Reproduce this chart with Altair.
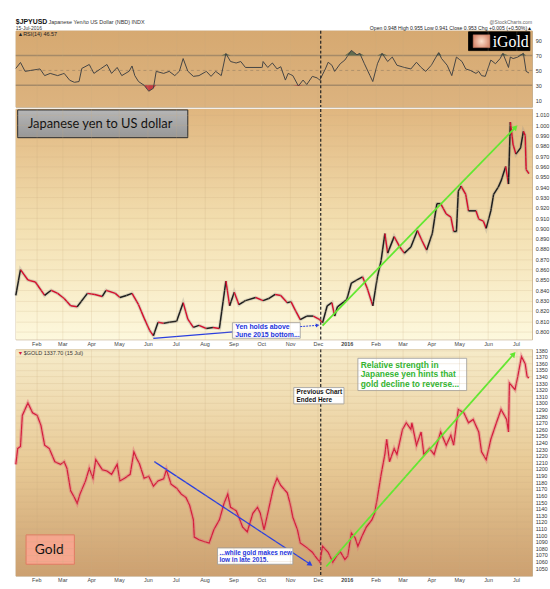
import altair as alt
import pandas as pd

# ---------------- values ----------------
yen_dates = ["2015-01-10","2015-01-15","2015-01-23","2015-01-31","2015-02-10","2015-02-17","2015-02-24","2015-03-03","2015-03-10","2015-03-17",
             "2015-03-28","2015-04-05","2015-04-13","2015-04-17","2015-04-27","2015-05-02","2015-05-09","2015-05-15","2015-05-22","2015-05-28",
             "2015-06-03","2015-06-07","2015-06-12","2015-06-18","2015-06-24","2015-07-02","2015-07-09","2015-07-14","2015-07-20","2015-07-26",
             "2015-08-03","2015-08-10","2015-08-17","2015-08-24","2015-08-28","2015-09-02","2015-09-07","2015-09-14","2015-09-25","2015-10-03",
             "2015-10-09","2015-10-16","2015-10-22","2015-10-29","2015-11-02","2015-11-07","2015-11-12","2015-11-19","2015-11-26","2015-12-03",
             "2015-12-06","2015-12-11","2015-12-16","2015-12-19","2015-12-22","2016-01-01","2016-01-06","2016-01-12","2016-01-18","2016-01-23",
             "2016-01-29","2016-02-03","2016-02-07","2016-02-11","2016-02-14","2016-02-21","2016-02-27","2016-03-03","2016-03-10","2016-03-17",
             "2016-03-22","2016-03-27","2016-04-02","2016-04-07","2016-04-11","2016-04-17","2016-04-22","2016-04-25","2016-04-28","2016-04-30",
             "2016-05-03","2016-05-08","2016-05-11","2016-05-19","2016-05-22","2016-05-27","2016-05-30","2016-06-04","2016-06-07","2016-06-12",
             "2016-06-15","2016-06-20","2016-06-23","2016-06-25","2016-06-28","2016-07-01","2016-07-06","2016-07-09","2016-07-11","2016-07-12",
             "2016-07-15"]
yen_vals = [0.835,0.860,0.850,0.848,0.835,0.840,0.837,0.832,0.825,0.824,
            0.837,0.836,0.834,0.840,0.837,0.833,0.835,0.837,0.826,0.813,
            0.801,0.796,0.809,0.808,0.809,0.810,0.828,0.812,0.804,0.806,
            0.803,0.804,0.803,0.849,0.825,0.838,0.826,0.830,0.833,0.830,
            0.832,0.836,0.835,0.828,0.829,0.820,0.8115,0.815,0.815,0.8115,
            0.8085,0.825,0.828,0.815,0.824,0.831,0.847,0.850,0.853,0.842,
            0.825,0.853,0.869,0.895,0.876,0.892,0.882,0.876,0.882,0.898,
            0.888,0.879,0.895,0.924,0.924,0.914,0.911,0.897,0.897,0.936,
            0.941,0.933,0.917,0.917,0.909,0.907,0.900,0.917,0.933,0.940,
            0.946,0.960,0.943,1.003,0.981,0.972,0.978,0.994,0.990,0.957,
            0.953]

gold_dates = ["2015-01-10","2015-01-12","2015-01-15","2015-01-17","2015-01-23","2015-01-28","2015-02-02","2015-02-06","2015-02-10","2015-02-15",
              "2015-02-21","2015-02-27","2015-03-03","2015-03-06","2015-03-10","2015-03-14","2015-03-17","2015-03-20","2015-03-26","2015-03-30",
              "2015-04-03","2015-04-06","2015-04-13","2015-04-18","2015-04-23","2015-04-29","2015-05-02","2015-05-07","2015-05-13","2015-05-17",
              "2015-05-20","2015-05-23","2015-05-28","2015-06-02","2015-06-07","2015-06-12","2015-06-18","2015-06-21","2015-06-26","2015-07-02",
              "2015-07-07","2015-07-12","2015-07-16","2015-07-20","2015-07-21","2015-07-26","2015-08-01","2015-08-06","2015-08-11","2015-08-17",
              "2015-08-22","2015-08-26","2015-08-29","2015-09-04","2015-09-07","2015-09-11","2015-09-16","2015-09-22","2015-09-27","2015-09-30",
              "2015-10-04","2015-10-08","2015-10-11","2015-10-14","2015-10-18","2015-10-22","2015-10-29","2015-11-01","2015-11-04","2015-11-09",
              "2015-11-12","2015-11-19","2015-11-25","2015-11-28","2015-12-03","2015-12-06","2015-12-12","2015-12-17","2015-12-21","2015-12-25",
              "2015-12-30","2016-01-02","2016-01-06","2016-01-10","2016-01-13","2016-01-17","2016-01-22","2016-01-28","2016-01-31","2016-02-03",
              "2016-02-07","2016-02-11","2016-02-13","2016-02-16","2016-02-21","2016-02-24","2016-03-01","2016-03-05","2016-03-10","2016-03-11",
              "2016-03-16","2016-03-21","2016-03-24","2016-03-30","2016-04-04","2016-04-11","2016-04-17","2016-04-22","2016-04-25","2016-04-30",
              "2016-05-06","2016-05-11","2016-05-16","2016-05-22","2016-05-25","2016-05-30","2016-06-04","2016-06-10","2016-06-15","2016-06-21",
              "2016-06-23","2016-06-24","2016-06-30","2016-07-03","2016-07-07","2016-07-11","2016-07-13","2016-07-15"]
gold_vals = [1207,1231,1234,1281,1300,1285,1281,1266,1236,1231,
             1211,1207,1211,1201,1167,1157,1148,1162,1182,1201,
             1186,1214,1199,1197,1192,1207,1182,1186,1192,1226,
             1216,1208,1186,1189,1174,1182,1185,1199,1177,1171,
             1162,1157,1145,1123,1097,1093,1090,1088,1108,1123,
             1148,1162,1142,1137,1127,1112,1105,1133,1142,1133,
             1108,1133,1152,1171,1186,1175,1164,1148,1127,1108,
             1088,1081,1074,1068,1059,1083,1074,1059,1068,1075,
             1063,1068,1103,1096,1083,1097,1112,1123,1133,1157,
             1192,1222,1245,1211,1231,1222,1260,1270,1260,1270,
             1236,1256,1222,1231,1222,1256,1236,1251,1236,1290,
             1285,1270,1275,1256,1226,1214,1245,1270,1290,1275,
             1256,1330,1320,1340,1370,1359,1340,1337.7]

rsi_dates = ["2015-01-10","2015-01-15","2015-01-20","2015-01-26","2015-02-05","2015-02-10","2015-02-16","2015-02-24","2015-03-03","2015-03-09",
             "2015-03-14","2015-03-19","2015-03-22","2015-03-30","2015-04-04","2015-04-11","2015-04-18","2015-04-23","2015-04-29","2015-05-04",
             "2015-05-12","2015-05-15","2015-05-18","2015-05-22","2015-05-28","2015-06-02","2015-06-07","2015-06-10","2015-06-18","2015-06-24",
             "2015-06-30","2015-07-05","2015-07-09","2015-07-14","2015-07-20","2015-07-26","2015-08-03","2015-08-08","2015-08-13","2015-08-19",
             "2015-08-24","2015-08-29","2015-09-04","2015-09-09","2015-09-14","2015-10-02","2015-10-03","2015-10-08","2015-10-13","2015-10-18",
             "2015-10-22","2015-10-27","2015-10-30","2015-11-04","2015-11-10","2015-11-15","2015-11-19","2015-11-25","2015-11-30","2015-12-03",
             "2015-12-09","2015-12-12","2015-12-16","2015-12-19","2015-12-25","2015-12-30","2016-01-06","2016-01-12","2016-01-15","2016-01-20",
             "2016-01-26","2016-01-29","2016-02-03","2016-02-08","2016-02-14","2016-02-19","2016-02-24","2016-03-03","2016-03-10","2016-03-16",
             "2016-03-21","2016-03-26","2016-04-01","2016-04-06","2016-04-09","2016-04-12","2016-04-18","2016-04-23","2016-04-28","2016-05-04",
             "2016-05-08","2016-05-13","2016-05-19","2016-05-22","2016-05-25","2016-05-29","2016-06-04","2016-06-09","2016-06-14","2016-06-17",
             "2016-06-23","2016-06-25","2016-06-28","2016-07-03","2016-07-09","2016-07-12","2016-07-15"]
rsi_vals = [52.7,60.7,48.7,50,52,43,46,43,46,36.7,
            34,35,52.7,58,46,52,58,46,54,43,
            49,56,43,35,30,22,26,48.7,46,48.7,
            43,49,66,49,42,43,48.7,42,48.7,43,
            72.7,62,60,62,54,54,62,54,60,52,
            55,37,46,43,29,37,31,42,40,37,
            52,61,57,48.7,59,64,77,71,73,59,
            43,35,59,73,62,68,57,54,52,61,
            54,48.7,57,68,74,66,57,43,68,62,
            52,50,46,48.7,43,42,64,59,66,73,
            54,68,66,68,73,48.7,46.57]

month_ticks = ["2015-02-01","2015-03-01","2015-04-01","2015-05-01","2015-06-01","2015-07-01","2015-08-01","2015-09-01",
               "2015-10-01","2015-11-01","2015-12-01","2016-01-01","2016-02-01","2016-03-01","2016-04-01","2016-05-01",
               "2016-06-01","2016-07-01"]
yen_ticks = [0.800,0.810,0.820,0.830,0.840,0.850,0.860,0.870,0.880,0.890,0.900,0.910,0.920,0.930,0.940,0.950,
             0.960,0.970,0.980,0.990,1.000,1.010]
gold_ticks = list(range(1050, 1390, 10))
rsi_ticks = [10, 30, 50, 70, 90]
rsi_levels = [30, 70]
dash_date = ["2015-12-04"]

# annotation anchors (data coordinates)
yen_title_box = {"d1": ["2015-01-12"], "d2": ["2015-07-14"], "v1": [1.0148], "v2": [0.9879]}
yen_title_txt = {"d": ["2015-01-23"], "v": [1.0013], "t": ["Japanese yen to US dollar"]}
yen_note_box = {"d1": ["2015-08-31"], "d2": ["2015-11-12"], "v1": [0.8086], "v2": [0.7935]}
yen_note_txt = {"d": ["2015-09-03"], "v": [0.8078], "t": ["Yen holds above\nJune 2015 bottom..."]}
yen_blue_line = {"d1": ["2015-06-07"], "d2": ["2015-09-01"], "v1": [0.7934], "v2": [0.7996]}
yen_blue_arrow = {"d1": ["2015-11-12"], "d2": ["2015-11-30"], "v1": [0.8048], "v2": [0.8060]}
yen_green_arrow = {"d1": ["2015-12-06"], "d2": ["2016-06-30"], "v1": [0.8058], "v2": [0.9975]}

gold_name_box = {"d1": ["2015-01-21"], "d2": ["2015-03-14"], "v1": [1100.3], "v2": [1055.9]}
gold_name_txt = {"d": ["2015-02-15"], "v": [1077.5], "t": ["Gold"]}
gold_blue_arrow = {"d1": ["2015-06-08"], "d2": ["2015-11-22"], "v1": [1211.2], "v2": [1056.5]}
gold_note_box = {"d1": ["2015-08-15"], "d2": ["2015-11-04"], "v1": [1080.6], "v2": [1055.9]}
gold_note_txt = {"d": ["2015-08-17"], "v": [1078.0], "t": ["...while gold makes new\nlow in late 2015."]}
prev_box = {"d1": ["2015-11-05"], "d2": ["2015-12-29"], "v1": [1323.2], "v2": [1298.5]}
prev_txt = {"d": ["2015-11-08"], "v": [1320.7], "t": ["Previous Chart\nEnded Here"]}
rel_box = {"d1": ["2016-01-13"], "d2": ["2016-05-09"], "v1": [1367.5], "v2": [1318.7]}
rel_txt = {"d": ["2016-01-16"], "v": [1364.0], "t": ["Relative strength in\nJapanese yen hints that\ngold decline to reverse..."]}
gold_green_arrow = {"d1": ["2015-12-10"], "d2": ["2016-06-28"], "v1": [1052.5], "v2": [1372.9]}

logo_box = {"d1": ["2016-05-11"], "d2": ["2016-07-16"], "v1": [102.0], "v2": [76.7]}
logo_sq = {"d1": ["2016-05-16"], "d2": ["2016-06-03"], "v1": [98.0], "v2": [80.7]}
logo_txt = {"d": ["2016-06-06"], "v": [88.7], "t": ["iGold"]}

# ---------------- chart ----------------
W = 522
H_RSI, H_YEN, H_GOLD = 77, 233, 229
FONT = "Liberation Sans"
ONE = pd.DataFrame({"a": [0]})


def dt(s, **kw):
    y, m, d = map(int, s.split("-"))
    return alt.DateTime(year=y, month=m, date=d, utc=True, **kw)


XSCALE = alt.Scale(type="utc", domain=[dt("2015-01-10"), dt("2016-07-18", hours=12)])
LABEL_EXPR = "utcmonth(datum.value) == 0 ? utcFormat(datum.value, '%Y') : utcFormat(datum.value, '%b')"
GRID_COLOR = "#c9ad80"


def x_axis(labels=True):
    return alt.Axis(values=[dt(s) for s in month_ticks], labelExpr=LABEL_EXPR, labels=labels,
                    ticks=False, domain=False, grid=True, gridColor=GRID_COLOR, gridOpacity=0.35,
                    gridWidth=0.6, labelFontSize=5.5, labelColor="#444", labelPadding=2, labelFont=FONT,
                    labelFontWeight={"condition": {"test": "utcmonth(datum.value) == 0", "value": "bold"},
                                     "value": "normal"},
                    zindex=1)


def y_axis(values, fmt, grid=True):
    return alt.Axis(values=values, format=fmt, orient="right", ticks=False, domain=False, grid=grid,
                    gridColor=GRID_COLOR, gridOpacity=0.35, gridWidth=0.6, labelFontSize=5.5,
                    labelColor="#333", labelPadding=3, labelOverlap=False, labelFont=FONT, zindex=1)


def ex(f, ax):
    return alt.X(f"{f}:T", scale=XSCALE, axis=ax, title=None)


def ey(f, sc, ax):
    return alt.Y(f"{f}:Q", scale=sc, axis=ax, title=None)


def background(h, stops):
    grad = alt.LinearGradient(gradient="linear", x1=0, x2=0, y1=0, y2=1,
                              stops=[alt.GradientStop(color=c, offset=o) for o, c in stops])
    return alt.Chart(ONE).mark_rect(fill=grad).encode(
        x=alt.value(0), x2=alt.value(W), y=alt.value(0), y2=alt.value(h))


def box(d, ysc, xa, ya, fill, stroke, sw=0.8):
    return alt.Chart(pd.DataFrame(d)).mark_rect(fill=fill, stroke=stroke, strokeWidth=sw).encode(
        x=ex("d1", xa), x2="d2:T", y=ey("v1", ysc, ya), y2="v2:Q")


def label(d, ysc, xa, ya, **mk):
    return alt.Chart(pd.DataFrame(d)).mark_text(lineBreak="\n", **mk).encode(
        x=ex("d", xa), y=ey("v", ysc, ya), text="t:N")


def arrow(d, ysc, xa, ya, color, angle, width=1.6, dash=None, size=45):
    kw = {"strokeDash": dash} if dash else {}
    df = pd.DataFrame(d)
    seg = alt.Chart(df).mark_rule(color=color, strokeWidth=width, **kw).encode(
        x=ex("d1", xa), x2="d2:T", y=ey("v1", ysc, ya), y2="v2:Q")
    head = alt.Chart(df).mark_point(shape="triangle", filled=True, color=color, opacity=1,
                                    size=size, angle=angle).encode(
        x=ex("d2", xa), y=ey("v2", ysc, ya))
    return seg + head


def dash_rule(xa):
    return alt.Chart(pd.DataFrame({"date": dash_date})).mark_rule(
        color="#222", strokeWidth=1.2, strokeDash=[3, 2]).encode(x=ex("date", xa))


def ptext(txt, x, y, size=5.5, weight="normal", color="#222", align="left", font=FONT):
    return alt.Chart(ONE).mark_text(text=txt, fontSize=size, fontWeight=weight, color=color,
                                    align=align, baseline="middle", font=font).encode(
        x=alt.value(x), y=alt.value(y))


# ---- RSI panel ----
rsi_df = pd.DataFrame({"date": rsi_dates, "rsi": rsi_vals})
RSI_Y = alt.Scale(domain=[0.67, 103.3], nice=False, zero=False)
rxa = x_axis(labels=False)
rya = y_axis(rsi_ticks, "d", grid=False)

rsi_chart = alt.layer(
    background(H_RSI, [(0, "#d6a971"), (1, "#dcb37f")]),
    alt.Chart(ONE).mark_rule(color="white", strokeWidth=0.1).encode(
        x=alt.value(0), y=alt.value(-27), y2=alt.value(-26)),
    alt.Chart(pd.DataFrame({"lvl": rsi_levels})).mark_rule(color="#a58a68", strokeWidth=1.6).encode(
        y=ey("lvl", RSI_Y, rya)),
    alt.Chart(pd.DataFrame({"lvl": [50]})).mark_rule(color="#a58a68", strokeWidth=0.8,
                                                     strokeDash=[3, 3]).encode(y=ey("lvl", RSI_Y, rya)),
    alt.Chart(rsi_df).transform_calculate(hi="max(datum.rsi, 70)").mark_area(
        color="#56664a", opacity=0.9).encode(x=ex("date", rxa), y=ey("hi", RSI_Y, rya), y2=alt.Y2Datum(70)),
    alt.Chart(rsi_df).transform_calculate(lo="min(datum.rsi, 30)").mark_area(
        color="#c4303c", opacity=0.9).encode(x=ex("date", rxa), y=ey("lo", RSI_Y, rya), y2=alt.Y2Datum(30)),
    alt.Chart(rsi_df).mark_line(color="#444", strokeWidth=1).encode(
        x=ex("date", rxa), y=ey("rsi", RSI_Y, rya)),
    dash_rule(rxa),
    box(logo_box, RSI_Y, rxa, rya, "#000000", "#000000"),
    box(logo_sq, RSI_Y, rxa, rya,
        alt.RadialGradient(gradient="radial", stops=[alt.GradientStop(color="#fbe0cc", offset=0),
                                                     alt.GradientStop(color="#d98a70", offset=1)]),
        "#c07860", 0.5),
    label(logo_txt, RSI_Y, rxa, rya, font="Liberation Serif", fontSize=16, color="white",
          align="left", baseline="middle"),
    ptext("$JPYUSD", 0, -9, size=7, weight="bold", color="#111"),
    ptext("Japanese Yen/to US Dollar (NBD) INDX", 33, -9, size=5.5, color="#333"),
    ptext("15-Jul-2016", 0, -3, size=5, color="#333"),
    ptext("@StockCharts.com", W, -9, size=5, color="#666", align="right"),
    ptext("Open 0.948  High 0.955  Low 0.941  Close 0.953  Chg +0.005 (+0.50%)\u25b2", W, -2.5,
          size=5.2, color="#222", align="right"),
    ptext("\u25b2RSI(14) 46.57", 2, 3.5, size=5.5, color="#222"),
).properties(width=W, height=H_RSI)

# ---- Yen panel ----
yen_df = pd.DataFrame({"date": yen_dates, "v": yen_vals})
YEN_Y = alt.Scale(domain=[0.7923, 1.0157], nice=False, zero=False)
yxa = x_axis(labels=True)
yya = y_axis(yen_ticks, ".3f")

yen_segments = alt.Chart(yen_df).transform_window(
    window=[alt.WindowFieldDef(op="lag", field="v", **{"as": "pv"}),
            alt.WindowFieldDef(op="lag", field="date", **{"as": "pdate"})],
    sort=[alt.SortField("date")]
).transform_filter("datum.pv != null").mark_rule(strokeWidth=1.5).encode(
    x=ex("pdate", yxa), x2="date:T", y=ey("pv", YEN_Y, yya), y2="v:Q",
    color=alt.condition("datum.v < datum.pv", alt.value("#d4102e"), alt.value("#1e1e1e")))

yen_chart = alt.layer(
    background(H_YEN, [(0, "#e0b67f"), (0.5, "#f3dfb0"), (1, "#fdf8dd")]),
    dash_rule(yxa),
    alt.Chart(yen_df).mark_line(color="#888", strokeWidth=3.5, opacity=0.25).encode(
        x=ex("date", yxa), y=ey("v", YEN_Y, yya)),
    yen_segments,
    box(yen_title_box, YEN_Y, yxa, yya,
        alt.LinearGradient(gradient="linear", x1=0, x2=0, y1=0, y2=1,
                           stops=[alt.GradientStop(color="#b6b6b6", offset=0),
                                  alt.GradientStop(color="#979797", offset=1)]),
        "#2a2a2a", 1),
    label(yen_title_txt, YEN_Y, yxa, yya, font="Lato", fontSize=13, color="#111",
          align="left", baseline="middle"),
    alt.Chart(pd.DataFrame(yen_blue_line)).mark_rule(color="#2a3fe0", strokeWidth=1.3).encode(
        x=ex("d1", yxa), x2="d2:T", y=ey("v1", YEN_Y, yya), y2="v2:Q"),
    box(yen_note_box, YEN_Y, yxa, yya, "white", "#999"),
    label(yen_note_txt, YEN_Y, yxa, yya, font=FONT, fontSize=7, fontWeight="bold", color="#2233dd",
          align="left", baseline="top", lineHeight=7.5),
    arrow(yen_blue_arrow, YEN_Y, yxa, yya, "#2a3fe0", 84, width=1, dash=[2, 1], size=18),
    arrow(yen_green_arrow, YEN_Y, yxa, yya, "#62e830", 44, width=1.8, size=40),
).properties(width=W, height=H_YEN)

# ---- Gold panel ----
gold_df = pd.DataFrame({"date": gold_dates, "v": gold_vals})
GOLD_Y = alt.Scale(domain=[1038.2, 1381], nice=False, zero=False)
gxa = x_axis(labels=True)
gya = y_axis(gold_ticks, "d")

gold_chart = alt.layer(
    background(H_GOLD, [(0, "#f6ebc9"), (0.5, "#e8ca96"), (1, "#cca070")]),
    dash_rule(gxa),
    alt.Chart(gold_df).mark_line(color="#e36a78", strokeWidth=3.5, opacity=0.45).encode(
        x=ex("date", gxa), y=ey("v", GOLD_Y, gya)),
    alt.Chart(gold_df).mark_line(color="#d41c3c", strokeWidth=1.2).encode(
        x=ex("date", gxa), y=ey("v", GOLD_Y, gya)),
    box(gold_name_box, GOLD_Y, gxa, gya, "#f6a68e", "#e07a62", 1),
    label(gold_name_txt, GOLD_Y, gxa, gya, font="Lato", fontSize=14, color="#111",
          align="center", baseline="middle"),
    arrow(gold_blue_arrow, GOLD_Y, gxa, gya, "#2a3fe0", 124, width=1.3, size=35),
    box(gold_note_box, GOLD_Y, gxa, gya, "white", "#999"),
    label(gold_note_txt, GOLD_Y, gxa, gya, font=FONT, fontSize=6.5, fontWeight="bold", color="#2233dd",
          align="left", baseline="top", lineHeight=7.5),
    box(prev_box, GOLD_Y, gxa, gya, "white", "#999"),
    label(prev_txt, GOLD_Y, gxa, gya, font=FONT, fontSize=6.5, fontWeight="bold", color="#111",
          align="left", baseline="top", lineHeight=8),
    box(rel_box, GOLD_Y, gxa, gya, "white", "#999"),
    label(rel_txt, GOLD_Y, gxa, gya, font=FONT, fontSize=8.5, fontWeight="bold", color="#2fb52f",
          align="left", baseline="top", lineHeight=9.7),
    arrow(gold_green_arrow, GOLD_Y, gxa, gya, "#62e830", 41, width=1.8, size=40),
    ptext("\u25bc", 2, 4, size=5.5, color="#d41c3c"),
    ptext("$GOLD 1337.70 (15 Jul)", 8, 4, size=5.5, color="#333"),
).properties(width=W, height=H_GOLD)

chart = alt.vconcat(rsi_chart, yen_chart, gold_chart, spacing=0).properties(
    padding={"left": 8, "top": 0, "right": 0, "bottom": 0}, background="white"
).configure_view(stroke="#b59a72", strokeWidth=0.8)

chart.save("out.html", embed_options={"renderer": "svg", "actions": False})
